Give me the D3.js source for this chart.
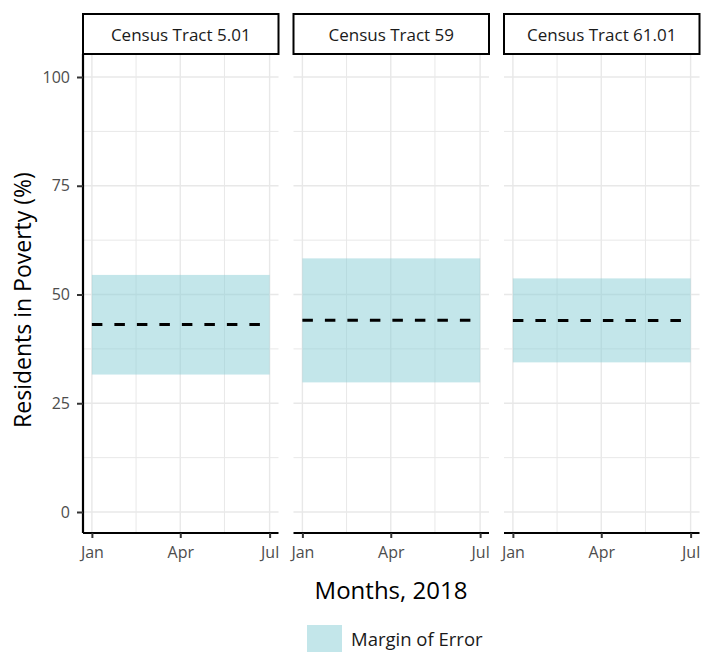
<!DOCTYPE html>
<html><head><meta charset="utf-8">
<script src="https://cdn.jsdelivr.net/npm/d3@7"></script>
<style>body{margin:0;background:#fff}svg{display:block}</style>
</head><body>
<svg id="c" width="701" height="652" font-family="Open Sans, sans-serif"></svg>
<script>
const tracts = ["Census Tract 5.01", "Census Tract 59", "Census Tract 61.01"];
const estimate = [43.1, 44.1, 44.0];
const lowerMOE = [31.6, 29.8, 34.4];
const upperMOE = [54.5, 58.3, 53.7];
const dateStart = "2018-01-01", dateEnd = "2018-07-01";
const yTicks = [0, 25, 50, 75, 100];
const yMinor = [12.5, 37.5, 62.5, 87.5];
const xTickLabels = ["Jan", "Apr", "Jul"];
const xTickDates = ["2018-01-01", "2018-04-01", "2018-07-01"];
const xMinorDates = ["2018-02-15", "2018-05-16"];

const svg = d3.select("#c");
const parse = d3.utcParse("%Y-%m-%d");
const panelTop = 54, panelBottom = 533, panelW = 195.5, gap = 15, left0 = 83;
const y2 = d3.scaleLinear().domain([0, 100]).range([512, 77]);
const t0 = parse(dateStart), t1 = parse(dateEnd);
const span = t1 - t0;
const grid = "#e8e8e8";
const FONT = "Open Sans, sans-serif";

tracts.forEach((name, i) => {
  const px = left0 + i * (panelW + gap);
  const x = d3.scaleUtc().domain([new Date(+t0 - span*0.05), new Date(+t1 + span*0.05)]).range([px, px + panelW]);
  const g = svg.append("g");
  yMinor.forEach(v => g.append("line").attr("x1", px).attr("x2", px+panelW).attr("y1", y2(v)).attr("y2", y2(v)).attr("stroke", grid).attr("stroke-width", 1));
  xMinorDates.forEach(d => g.append("line").attr("x1", x(parse(d))).attr("x2", x(parse(d))).attr("y1", panelTop).attr("y2", panelBottom).attr("stroke", grid).attr("stroke-width", 1));
  yTicks.forEach(v => g.append("line").attr("x1", px).attr("x2", px+panelW).attr("y1", y2(v)).attr("y2", y2(v)).attr("stroke", grid).attr("stroke-width", 1.4));
  xTickDates.forEach(d => g.append("line").attr("x1", x(parse(d))).attr("x2", x(parse(d))).attr("y1", panelTop).attr("y2", panelBottom).attr("stroke", grid).attr("stroke-width", 1.4));
  g.append("rect").attr("x", x(t0)).attr("width", x(t1) - x(t0))
    .attr("y", y2(upperMOE[i])).attr("height", y2(lowerMOE[i]) - y2(upperMOE[i]))
    .attr("fill", "#87cdd5").attr("fill-opacity", 0.5);
  g.append("path").datum([t0, t1])
    .attr("d", d3.line().x(d => x(d)).y(() => y2(estimate[i])))
    .attr("stroke", "#000").attr("stroke-width", 3).attr("stroke-dasharray", "10.5,12").attr("fill", "none");
  const xa = d3.axisBottom(x).tickValues(xTickDates.map(parse)).tickFormat((d, k) => xTickLabels[k]).tickSize(5).tickPadding(9);
  const ag = g.append("g").attr("transform", `translate(0,${panelBottom})`).call(xa);
  ag.attr("font-family", FONT).attr("font-size", 16);
  ag.select(".domain").attr("stroke", "#000").attr("stroke-width", 2.2).attr("d", `M${px},0H${px+panelW}`);
  ag.selectAll(".tick line").attr("stroke", "#333").attr("stroke-width", 2);
  ag.selectAll(".tick text").attr("fill", "#4d4d4d");
  g.append("rect").attr("x", px).attr("y", 14).attr("width", panelW).attr("height", 40)
    .attr("fill", "#fff").attr("stroke", "#000").attr("stroke-width", 2);
  g.append("text").attr("x", px + panelW/2).attr("y", 40.5).attr("text-anchor", "middle")
    .attr("font-size", 17).attr("fill", "#1a1a1a").text(name);
  if (i === 0) {
    const ya = d3.axisLeft(y2).tickValues(yTicks).tickSize(6).tickPadding(7);
    const yg = g.append("g").attr("transform", `translate(${px},0)`).call(ya);
    yg.attr("font-family", FONT).attr("font-size", 16);
    yg.select(".domain").attr("stroke", "#000").attr("stroke-width", 2.2).attr("d", `M0,${panelTop}V${panelBottom}`);
    yg.selectAll(".tick line").attr("stroke", "#333").attr("stroke-width", 2);
    yg.selectAll(".tick text").attr("fill", "#4d4d4d");
  }
});

svg.append("text").attr("x", 391).attr("y", 599).attr("text-anchor", "middle").attr("font-size", 24).attr("fill", "#000").text("Months, 2018");
svg.append("text").attr("transform", "translate(31,300) rotate(-90)").attr("text-anchor", "middle").attr("font-size", 23).attr("fill", "#000").text("Residents in Poverty (%)");
svg.append("rect").attr("x", 307).attr("y", 625).attr("width", 35).attr("height", 35).attr("fill", "#87cdd5").attr("fill-opacity", 0.5);
svg.append("text").attr("x", 351).attr("y", 646).attr("font-size", 18.5).attr("fill", "#1a1a1a").text("Margin of Error");
</script>
</body></html>
